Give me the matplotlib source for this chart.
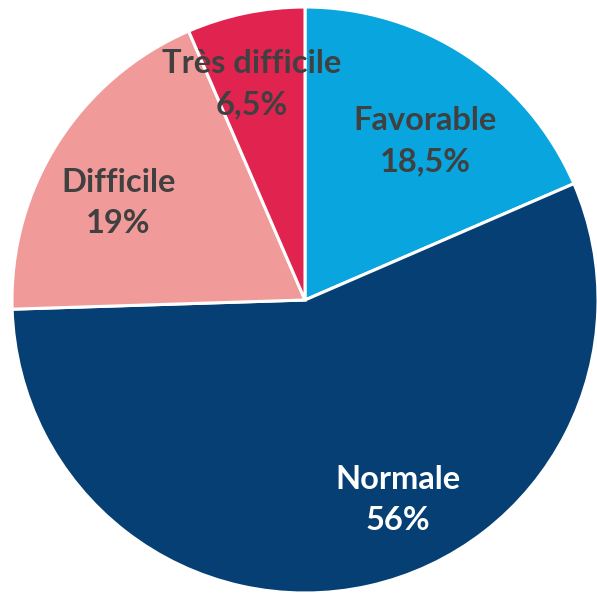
import matplotlib
matplotlib.use("Agg")
import matplotlib.pyplot as plt

categories = ["Favorable", "Normale", "Difficile", "Très difficile"]
values = [18.5, 56, 19, 6.5]
value_labels = ["18,5%", "56%", "19%", "6,5%"]
colors = ["#08A5DE", "#063F73", "#F09B99", "#E1244F"]
text_colors = ["#404040", "#FFFFFF", "#404040", "#404040"]
# label centres, in units of the pie radius
label_pos = [(0.410, 0.543), (0.317, -0.683), (-0.638, 0.331), (-0.181, 0.737)]

W, H = 597, 596
fig = plt.figure(figsize=(W / 100, H / 100), dpi=100)
cx, cy, r = 305, 300, 293
ax = fig.add_axes([(cx - r) / W, (H - cy - r) / H, 2 * r / W, 2 * r / H])

ax.pie(values, colors=colors, startangle=90, counterclock=False, radius=1,
       wedgeprops=dict(edgecolor="white", linewidth=2.2))
for cat, lab, (x, y), tc in zip(categories, value_labels, label_pos, text_colors):
    ax.text(x, y, cat + "\n" + lab, ha="center", va="center", color=tc,
            fontsize=23.5, fontweight="bold", family="Lato", linespacing=1.5)

ax.set_xlim(-1, 1)
ax.set_ylim(-1, 1)
ax.set_aspect("equal")
ax.axis("off")

fig.savefig("out.png", dpi=100)
